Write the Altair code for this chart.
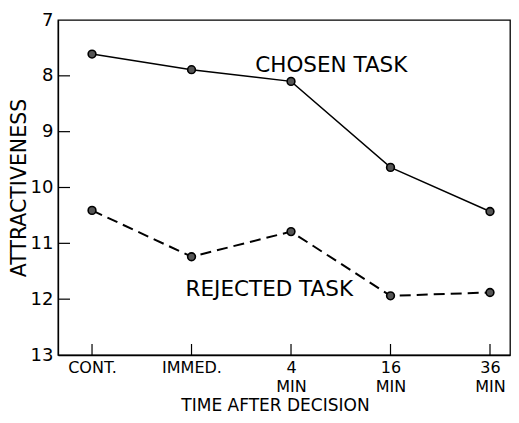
import json
import altair as alt
import pandas as pd

categories = ["CONT.", "IMMED.", "4 MIN", "16 MIN", "36 MIN"]
chosen = [7.61, 7.89, 8.10, 9.64, 10.43]
rejected = [10.41, 11.24, 10.79, 11.94, 11.88]
y_ticks = [7, 8, 9, 10, 11, 12, 13]
y_inner_ticks = [8, 9, 10, 11, 12]
series_labels = ["CHOSEN TASK", "REJECTED TASK"]
label_x = [1.64, 0.94]
label_y = [7.82, 11.84]

idx = list(range(len(categories)))
df_c = pd.DataFrame({"i": idx, "v": chosen})
df_r = pd.DataFrame({"i": idx, "v": rejected})
df_all = pd.concat([df_c, df_r])
df_txt = pd.DataFrame({"i": label_x, "v": label_y, "t": series_labels})
df_yt = pd.DataFrame({"v": y_inner_ticks})
df_xt = pd.DataFrame({"i": idx})

FONT = "DejaVu Sans"
label_lines = [c.split(" ") for c in categories]
label_expr = json.dumps(label_lines) + "[datum.value]"

W, H = 452, 335
xs = alt.Scale(domain=[-0.342, 4.201], nice=False, zero=False)
ys = alt.Scale(domain=[7, 13], reverse=True, nice=False, zero=False)

xaxis = alt.Axis(values=idx, labelExpr=label_expr, ticks=False, grid=False,
                 domain=True, domainColor="black", domainWidth=1.3,
                 labelFont=FONT, labelFontSize=16, labelColor="black",
                 labelPadding=4, labelLineHeight=19, labelFlush=False,
                 labelOverlap=False, title="TIME AFTER DECISION",
                 titleFont=FONT, titleFontSize=17, titleFontWeight="normal",
                 titleColor="black", titlePadding=3, titleX=217)
yaxis = alt.Axis(values=y_ticks, ticks=False, grid=False, domain=True,
                 domainColor="black", domainWidth=1.3, labelFont=FONT,
                 labelFontSize=18, labelColor="black", labelPadding=5,
                 labelFlush=False, labelOverlap=False, title="ATTRACTIVENESS",
                 titleFont=FONT, titleFontSize=20.5, titleFontWeight="normal",
                 titleColor="black", titlePadding=1)

X = alt.X("i:Q", scale=xs, axis=xaxis)
Y = alt.Y("v:Q", scale=ys, axis=yaxis)

line_c = alt.Chart(df_c).mark_line(color="black", strokeWidth=1.4).encode(x=X, y=Y)
line_r = alt.Chart(df_r).mark_line(color="black", strokeWidth=2,
                                   strokeDash=[11, 6]).encode(x=X, y=Y)
pts = alt.Chart(df_all).mark_point(shape="circle", size=60, filled=True,
                                   fill="#555", stroke="black", strokeWidth=1.6,
                                   opacity=1).encode(x=X, y=Y)
txt = alt.Chart(df_txt).mark_text(align="left", baseline="middle", font=FONT,
                                  fontSize=21.5, color="black").encode(x=X, y=Y, text="t:N")
ytk = alt.Chart(df_yt).mark_rule(color="black", strokeWidth=1.2).encode(
    y=Y, x=alt.value(0), x2=alt.value(12))
xtk = alt.Chart(df_xt).mark_rule(color="black", strokeWidth=1.2).encode(
    x=X, y=alt.value(H), y2=alt.value(H - 11))

chart = alt.layer(ytk, xtk, line_c, line_r, pts, txt).properties(
    width=W, height=H,
    autosize=alt.AutoSizeParams(type="none"),
    padding={"left": 50, "top": 12, "right": 1, "bottom": 60},
    background="white",
).configure_view(stroke="black", strokeWidth=1.3)

chart.save("out.html", embed_options={"renderer": "svg", "actions": False})
